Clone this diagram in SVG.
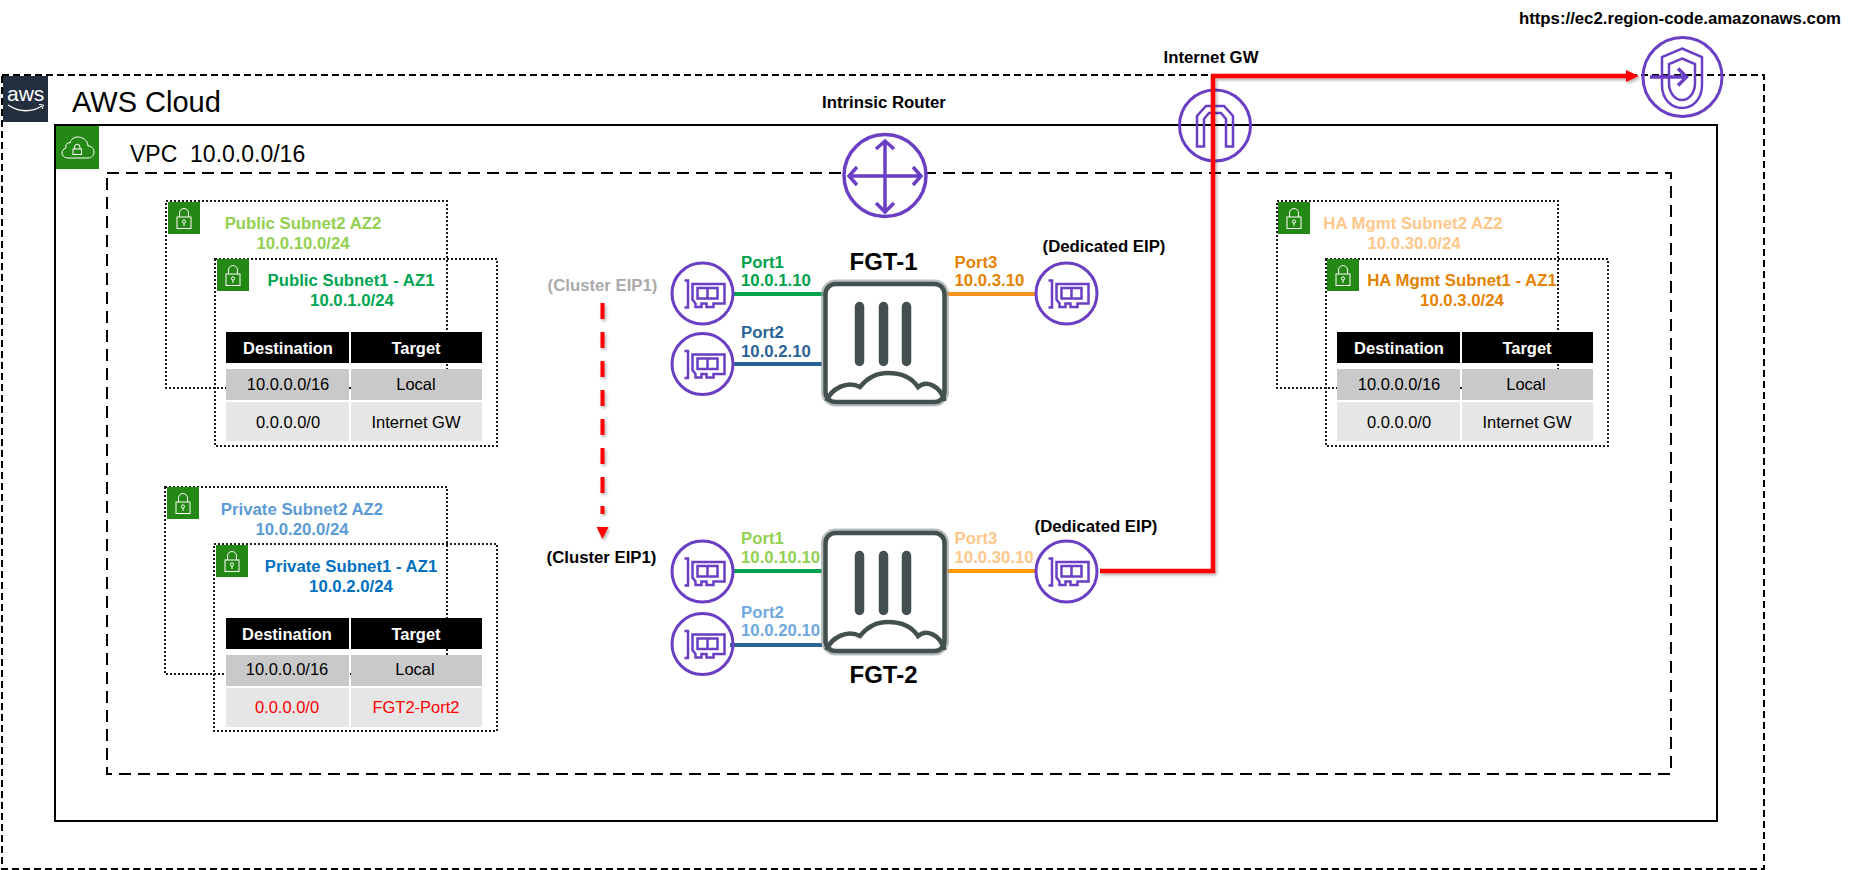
<svg xmlns="http://www.w3.org/2000/svg" width="1858" height="870" viewBox="0 0 1858 870">
<style>
text{font-family:"Liberation Sans",Arial,sans-serif;fill:#000}
.b{font-weight:700;font-size:16.75px}
.m{text-anchor:middle}
.r{font-size:16.5px;text-anchor:middle}
.h{font-weight:700;font-size:16.5px;text-anchor:middle;fill:#fff}
.red{fill:#f00}
.sub{fill:none;stroke:#1a1a1a;stroke-width:2;stroke-dasharray:2 2}
.ic{fill:none;stroke:#6a3fc4;stroke-width:3}
.ig{fill:none;stroke:#6a3fc4;stroke-width:2.5}
.port{fill:none;stroke-width:4}
.lk{fill:none;stroke:#fff;stroke-width:1}
.th{fill:#000}.r1{fill:#c9c9c9}.r2{fill:#e6e6e6}
</style>
<defs>
<filter id="sh" x="-5%" y="-5%" width="110%" height="110%"><feDropShadow dx="1.5" dy="2" stdDeviation="1.5" flood-color="#000" flood-opacity="0.3"/></filter>
<marker id="ah" markerUnits="userSpaceOnUse" markerWidth="14" markerHeight="14" refX="1" refY="7" orient="auto"><path d="M0 1L13 7L0 13Z" fill="#f00"/></marker>
<g id="lock">
<rect width="32" height="32" fill="#248814"/>
<rect x="9" y="15" width="14" height="11.5" class="lk"/>
<path d="M11.5 15V11a4.5 4.5 0 0 1 9 0V15" class="lk"/>
<circle cx="16" cy="19.5" r="1.6" class="lk"/><path d="M16 21V24" class="lk"/>
</g>
<g id="nic">
<circle r="30.5" class="ic"/>
<path d="M-18-13H-14.500V14H-18" class="ig"/>
<path d="M-10-9.500H22V10H11V13.500H4V10H-1V13.500H-7V10L-10 6Z" class="ig"/>
<path d="M-5-5.500H15V5H-5ZM5-5.500V5" class="ig"/>
</g>
<g id="fgt">
<rect x="825.500" y="284" width="119" height="118" rx="10" fill="none" stroke="#9aa3a2" stroke-opacity=".7" stroke-width="9"/>
<rect x="825.500" y="284" width="119" height="118" rx="10" fill="#fff" stroke="#44504f" stroke-width="4.500"/>
<path d="M859.500 306.500V361.500M883.500 306.500V361.500M906.500 306.500V361.500" stroke="#44504f" stroke-width="9.500" stroke-linecap="round" fill="none"/>
<path d="M826.500 401C831 389 847 380 860 387C868 377 878 373 888 373C902 373 912 378 918 387C926 380 940 385 944.500 401" fill="none" stroke="#44504f" stroke-width="4.500"/>
</g>
</defs>

<g id="aws-cloud">
<rect x="2" y="75" width="1762" height="794" fill="none" stroke="#000" stroke-width="2" stroke-dasharray="7 4"/>
<rect x="3" y="76" width="45" height="46" fill="#232f3e"/>
<text x="7" y="101" font-size="21" style="fill:#fff">aws</text>
<path d="M8 105Q25 116 42 106" fill="none" stroke="#fff" stroke-width="1.300"/>
<path d="M39 104.500L43.500 105L42 109" fill="none" stroke="#fff" stroke-width="1"/>
<text x="72" y="112" font-size="29">AWS Cloud</text>
</g>

<g id="vpc">
<rect x="55" y="125" width="1662" height="696" fill="none" stroke="#000" stroke-width="2"/>
<rect x="56" y="126" width="43" height="43" fill="#248814"/>
<path d="M68 158H88C92 158 94 155 94 152C94 148 91 146 88 146C88 140 82 137 78 137C74 137 71 139 70 143C67 142 65 145 66 148C63 149 62 151 62 153C62 156 65 158 68 158Z" class="lk" stroke-width="1.200"/>
<rect x="73" y="149" width="8.500" height="5.500" class="lk"/>
<path d="M74.500 149V147a2.700 2.700 0 0 1 5.500 0V149" class="lk"/>
<text x="130" y="162" font-size="23" xml:space="preserve">VPC  10.0.0.0/16</text>
</g>

<rect id="vpc-inner" x="107" y="173" width="1564" height="601" fill="none" stroke="#000" stroke-width="2" stroke-dasharray="12 7"/>

<g id="public-subnet2">
<rect x="166" y="201" width="281" height="187" class="sub"/>
<use href="#lock" x="168" y="202"/>
<text x="303" y="229" class="b m" style="fill:#92d050">Public Subnet2 AZ2</text>
<text x="303" y="249" class="b m" style="fill:#92d050">10.0.10.0/24</text>
</g>
<g id="public-subnet1">
<rect x="215" y="259" width="282" height="187" class="sub"/>
<use href="#lock" x="217" y="259"/>
<text x="351" y="286" class="b m" style="fill:#00a651">Public Subnet1  - AZ1</text>
<text x="352" y="306" class="b m" style="fill:#00a651">10.0.1.0/24</text>
<rect x="226" y="332" width="123" height="31" class="th"/><rect x="351" y="332" width="131" height="31" class="th"/>
<rect x="226" y="369" width="123" height="31" class="r1"/><rect x="351" y="369" width="131" height="31" class="r1"/>
<rect x="226" y="402" width="123" height="39" class="r2"/><rect x="351" y="402" width="131" height="39" class="r2"/>
<text x="288" y="354" class="h">Destination</text><text x="416" y="354" class="h">Target</text>
<text x="288" y="390" class="r">10.0.0.0/16</text><text x="416" y="390" class="r">Local</text>
<text x="288" y="428" class="r">0.0.0.0/0</text><text x="416" y="428" class="r">Internet GW</text>
</g>

<g id="private-subnet2">
<rect x="165" y="487" width="282" height="187" class="sub"/>
<use href="#lock" x="167" y="487"/>
<text x="302" y="515" class="b m" style="fill:#5b9bd5">Private Subnet2 AZ2</text>
<text x="302" y="535" class="b m" style="fill:#5b9bd5">10.0.20.0/24</text>
</g>
<g id="private-subnet1">
<rect x="214" y="544" width="283" height="187" class="sub"/>
<use href="#lock" x="216" y="545"/>
<text x="351" y="572" class="b m" style="fill:#0070c0">Private Subnet1 - AZ1</text>
<text x="351" y="592" class="b m" style="fill:#0070c0">10.0.2.0/24</text>
<rect x="226" y="618" width="123" height="31" class="th"/><rect x="351" y="618" width="131" height="31" class="th"/>
<rect x="226" y="655" width="123" height="31" class="r1"/><rect x="351" y="655" width="131" height="31" class="r1"/>
<rect x="226" y="688" width="123" height="39" class="r2"/><rect x="351" y="688" width="131" height="39" class="r2"/>
<text x="287" y="640" class="h">Destination</text><text x="416" y="640" class="h">Target</text>
<text x="287" y="675" class="r">10.0.0.0/16</text><text x="415" y="675" class="r">Local</text>
<text x="287" y="713" class="r red">0.0.0.0/0</text><text x="416" y="713" class="r red">FGT2-Port2</text>
</g>

<g id="ha-subnet2">
<rect x="1277" y="201" width="281" height="187" class="sub"/>
<use href="#lock" x="1278" y="202"/>
<text x="1413" y="229" class="b m" style="fill:#ffc78a">HA Mgmt Subnet2 AZ2</text>
<text x="1414" y="249" class="b m" style="fill:#ffc78a">10.0.30.0/24</text>
</g>
<g id="ha-subnet1">
<rect x="1326" y="259" width="282" height="187" class="sub"/>
<use href="#lock" x="1327" y="259"/>
<text x="1462" y="286" class="b m" style="fill:#e58200">HA Mgmt Subnet1 - AZ1</text>
<text x="1462" y="306" class="b m" style="fill:#e58200">10.0.3.0/24</text>
<rect x="1337" y="332" width="123" height="31" class="th"/><rect x="1462" y="332" width="131" height="31" class="th"/>
<rect x="1337" y="369" width="123" height="31" class="r1"/><rect x="1462" y="369" width="131" height="31" class="r1"/>
<rect x="1337" y="402" width="123" height="39" class="r2"/><rect x="1462" y="402" width="131" height="39" class="r2"/>
<text x="1399" y="354" class="h">Destination</text><text x="1527" y="354" class="h">Target</text>
<text x="1399" y="390" class="r">10.0.0.0/16</text><text x="1526" y="390" class="r">Local</text>
<text x="1399" y="428" class="r">0.0.0.0/0</text><text x="1527" y="428" class="r">Internet GW</text>
</g>

<g id="intrinsic-router">
<text x="884" y="108" class="b m">Intrinsic Router</text>
<circle cx="885" cy="175.500" r="41" fill="#fff" stroke="#6a3fc4" stroke-width="3.500"/>
<path d="M851 176H919M885 143V210M857 167L849 176L857 185M913 167L921 176L913 185M876 149L885 141L894 149M876 203L885 212L894 203" fill="none" stroke="#6a3fc4" stroke-width="3.500"/>
</g>

<g id="internet-gw">
<text x="1211" y="63" class="b m">Internet GW</text>
<circle cx="1215" cy="125.500" r="35.500" class="ic"/>
<path d="M1197 146.500V116L1206 106H1224L1233 116V146.500H1226V119L1221 113H1209L1204 119V146.500Z" class="ig"/>
</g>

<g id="ec2-endpoint">
<text x="1680" y="24" class="b m">https://ec2.region-code.amazonaws.com</text>
<circle cx="1682.500" cy="77" r="39.500" class="ic"/>
<path d="M1682 48.500L1702 57V85C1702 100 1692 108 1682 108C1672 108 1662 100 1662 85V57Z" class="ig" stroke-width="3"/>
<path d="M1682 58.500L1695 64V83C1695 93 1689 100 1682 100C1675 100 1669 93 1669 83V64Z" class="ig"/>
<path d="M1650 77H1686M1678 68.500L1686.500 77L1678 85.500" fill="none" stroke="#6a3fc4" stroke-width="3.500"/>
</g>

<g id="connectors">
<path class="port" stroke="#00a14b" d="M732 294H824"/>
<path class="port" stroke="#2a6496" d="M732 364H822"/>
<path class="port" stroke="#f7931e" d="M947 294H1036"/>
<path class="port" stroke="#00a14b" d="M732 571H822"/>
<path class="port" stroke="#2a6496" d="M730 645H822"/>
<path class="port" stroke="#ff9900" d="M947 571H1036"/>
<g filter="url(#sh)">
<path d="M602.500 303V514" fill="none" stroke="#f00" stroke-width="4" stroke-dasharray="16 13"/>
<path d="M596.500 527H608.500L602.500 539Z" fill="#f00"/>
</g>
<path d="M1100 571H1213V76H1627" fill="none" stroke="#f00" stroke-width="4.500" marker-end="url(#ah)" filter="url(#sh)"/>
</g>

<g id="fgt-1">
<use href="#fgt"/>
<text x="883.500" y="270" font-size="24" font-weight="700" text-anchor="middle">FGT-1</text>
</g>
<g id="fgt-2">
<use href="#fgt" y="249"/>
<text x="883.500" y="683" font-size="24" font-weight="700" text-anchor="middle">FGT-2</text>
</g>

<g id="nic-fgt1-port1"><use href="#nic" x="702.500" y="293.500"/><text x="741" y="268" class="b" style="fill:#00a14b">Port1</text><text x="741" y="286" class="b" style="fill:#00a14b">10.0.1.10</text></g>
<g id="nic-fgt1-port2"><use href="#nic" x="702.500" y="364"/><text x="741" y="338" class="b" style="fill:#2a6496">Port2</text><text x="741" y="357" class="b" style="fill:#2a6496">10.0.2.10</text></g>
<g id="nic-fgt1-port3"><use href="#nic" x="1066.500" y="293.500"/><text x="954.500" y="268" class="b" style="fill:#e58200">Port3</text><text x="954.500" y="286" class="b" style="fill:#e58200">10.0.3.10</text><text x="1104" y="252" class="b m">(Dedicated EIP)</text></g>
<g id="nic-fgt2-port1"><use href="#nic" x="702.500" y="571.500"/><text x="741" y="544" class="b" style="fill:#92d050">Port1</text><text x="741" y="563" class="b" style="fill:#92d050">10.0.10.10</text></g>
<g id="nic-fgt2-port2"><use href="#nic" x="702.500" y="644"/><text x="741" y="618" class="b" style="fill:#6fa8dc">Port2</text><text x="741" y="636" class="b" style="fill:#6fa8dc">10.0.20.10</text></g>
<g id="nic-fgt2-port3"><use href="#nic" x="1066.500" y="571.500"/><text x="954.500" y="544" class="b" style="fill:#ffc78a">Port3</text><text x="954.500" y="563" class="b" style="fill:#ffc78a">10.0.30.10</text><text x="1096" y="532" class="b m">(Dedicated EIP)</text></g>

<text id="cluster-eip-1" x="602.500" y="291" class="b m" style="fill:#aaa">(Cluster EIP1)</text>
<text id="cluster-eip-2" x="601.500" y="563" class="b m">(Cluster EIP1)</text>
</svg>
